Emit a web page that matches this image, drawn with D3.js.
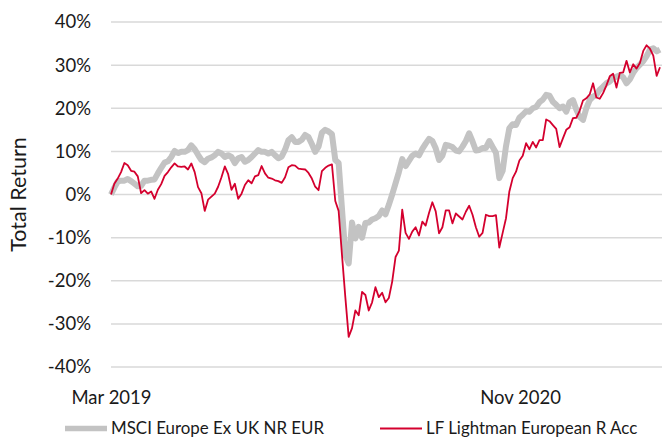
<!DOCTYPE html>
<html lang="en">
<head>
  <meta charset="UTF-8">
  <title>Total Return</title>
  <script src="https://d3js.org/d3.v7.min.js"></script>
  <style>
    body {
      margin: 0;
      background: #ffffff;
      overflow: hidden;
    }
    svg {
      display: block;
      font-family: Lato, 'Open Sans', sans-serif;
    }
    .grid line {
      stroke: #d9d9d9;
      stroke-width: 1.5px;
    }
    text {
      fill: #1a1a1a;
    }
  </style>
</head>
<body>
  <svg width="662" height="438"></svg>
  <script>
    // dates every 5 days from the start of March 2019
    const startDate = new Date(2019, 2, 1);
    const stepDays = 5;

    const seriesNames = ['MSCI Europe Ex UK NR EUR', 'LF Lightman European R Acc'];

    // MSCI Europe Ex UK NR EUR, total return in %
    const msci = [
      0, 1.6, 3.0, 3.2, 3.2, 3.6, 3.1, 2.5, 1.9, 2.0,
      3.2, 3.2, 3.4, 3.5, 4.9, 6.2, 7.4, 7.7, 8.7, 10.1,
      9.6, 9.9, 9.9, 10.3, 11.4, 10.5, 9.2, 8.0, 7.5, 8.3,
      8.6, 9.1, 9.9, 9.5, 8.7, 9.1, 8.7, 7.3, 8.4, 8.7,
      7.6, 8.0, 8.7, 9.5, 10.3, 9.9, 9.9, 9.5, 9.9, 9.1,
      8.4, 8.8, 10.4, 12.6, 13.3, 12.2, 12.2, 12.7, 13.8, 13.3,
      11.7, 9.9, 11.1, 14.3, 15.0, 14.6, 14.0, 8.0, 7.3, -3.3,
      -14.0, -16.0, -6.5, -10.2, -7.5, -10.0, -6.6, -6.5, -5.8, -5.5,
      -5.0, -3.7, -4.6, -2.4, 0, 2.6, 5.2, 8.2, 6.6, 7.8,
      9.0, 9.5, 9.1, 10.6, 11.8, 12.9, 12.4, 10.7, 8.0, 9.0,
      11.5, 11.3, 11.0, 10.2, 10.0, 11.1, 12.4, 14.2, 12.3, 10.2,
      10.3, 10.8, 10.8, 12.4, 11.0, 9.7, 3.8, 5.5, 11.2, 15.4,
      16.3, 16.1, 17.8, 18.5, 19.3, 19.2, 20.0, 20.3, 21.4, 22.0,
      23.1, 22.9, 21.5, 20.8, 20.0, 20.4, 19.2, 21.4, 21.9, 19.7,
      18.0, 17.3, 20.0, 21.9, 22.7, 23.1, 24.3, 25.0, 25.8, 26.2,
      27.0, 27.3, 27.7, 27.2, 25.8, 26.7, 28.2, 29.3, 30.1, 30.9,
      32.1, 33.6, 33.9, 33.2, 33.6
    ];

    // LF Lightman European R Acc, total return in %
    const lightman = [
      0, 2.5, 3.7, 5.2, 7.3, 6.8, 5.5, 5.3, 4.2, 0.3,
      1.0, 0.2, 0.7, -1.0, 1.1, 2.4, 4.3, 5.2, 6.3, 7.2,
      6.5, 6.4, 6.5, 5.8, 7.2, 5.2, 1.7, 0.3, -3.8, -1.2,
      -0.5, 0.2, 1.8, 4.0, 6.5, 4.7, 1.1, 2.5, -1.0, 0.2,
      2.2, 3.3, 2.6, 4.2, 4.5, 6.6, 4.9, 3.9, 3.7, 3.3,
      3.1, 2.7, 4.0, 6.3, 6.8, 6.7, 6.0, 5.9, 5.8, 5.0,
      3.7, 1.8, 1.0, 5.4, 6.2, 6.7, 7.0, -1.5, -3.8, -14.0,
      -23.8, -33.0, -31.0, -26.9, -28.0, -22.6, -23.3, -26.9, -25.0, -21.5,
      -23.8, -22.8, -25.0, -24.0, -20.2, -14.5, -13.0, -3.5, -8.9, -10.3,
      -8.6, -7.6, -9.5, -6.3, -7.2, -4.3, -1.8, -3.9, -9.0, -7.6,
      -3.7, -3.7, -6.7, -4.4, -5.1, -5.8, -4.0, -2.6, -4.7, -7.6,
      -9.8, -8.9, -4.7, -5.0, -5.0, -4.8, -12.3, -8.9, -5.5, 0.7,
      3.8, 5.3, 7.9, 9.0, 11.9, 10.5, 12.2, 10.9, 12.6, 12.6,
      17.4, 17.0, 16.1, 15.2, 11.0, 13.0, 15.0, 15.6, 17.7, 17.8,
      19.4, 21.8, 22.3, 23.2, 25.8, 22.5, 22.2, 23.5, 25.3, 27.4,
      28.0, 24.8, 28.2, 28.3, 31.0, 28.3, 30.2, 29.2, 30.5, 33.3,
      34.6, 33.8, 32.2, 27.5, 29.5
    ];

    const yTicks = [-40, -30, -20, -10, 0, 10, 20, 30, 40];
    const xTickDates = [new Date(2019, 2, 1), new Date(2020, 10, 1)];
    const xTickLabels = ['Mar 2019', 'Nov 2020'];

    const dates = msci.map((d, i) => d3.timeDay.offset(startDate, i * stepDays));

    const svg = d3.select('svg');
    const margin = { top: 22, right: 0, bottom: 71, left: 111 };
    const width = 662 - margin.left - margin.right;
    const height = 438 - margin.top - margin.bottom;

    const x = d3.scaleTime()
      .domain([startDate, new Date(2021, 5, 1)])
      .range([margin.left, margin.left + width]);

    const y = d3.scaleLinear()
      .domain([-40, 40])
      .range([margin.top + height, margin.top]);

    // gridlines
    svg.append('g')
      .attr('class', 'grid')
      .selectAll('line')
      .data(yTicks)
      .enter().append('line')
      .attr('x1', margin.left)
      .attr('x2', margin.left + width)
      .attr('y1', d => y(d))
      .attr('y2', d => y(d));

    // y axis labels
    const yAxis = d3.axisLeft(y)
      .tickValues(yTicks)
      .tickSize(0)
      .tickPadding(20)
      .tickFormat(d => d + '%');

    svg.append('g')
      .attr('transform', `translate(${margin.left},0)`)
      .call(yAxis)
      .call(g => g.select('.domain').remove())
      .selectAll('text')
      .attr('font-size', 18.5)
      .attr('font-family', 'Lato, sans-serif')
      .attr('fill', '#1a1a1a');

    // x axis labels
    const xAxis = d3.axisBottom(x)
      .tickValues(xTickDates)
      .tickSize(0)
      .tickPadding(24)
      .tickFormat((d, i) => xTickLabels[i]);

    svg.append('g')
      .attr('transform', `translate(0,${margin.top + height})`)
      .call(xAxis)
      .call(g => g.select('.domain').remove())
      .selectAll('text')
      .attr('font-size', 18.5)
      .attr('font-family', 'Lato, sans-serif')
      .attr('fill', '#1a1a1a');

    // axis title
    svg.append('text')
      .attr('transform', `translate(26,${margin.top + height / 2}) rotate(-90)`)
      .attr('text-anchor', 'middle')
      .attr('font-size', 21.5)
      .text('Total Return');

    const line = d3.line()
      .x((d, i) => x(dates[i]))
      .y(d => y(d));

    svg.append('path')
      .datum(msci)
      .attr('fill', 'none')
      .attr('stroke', '#c3c3c3')
      .attr('stroke-width', 6)
      .attr('stroke-linejoin', 'round')
      .attr('d', line);

    svg.append('path')
      .datum(lightman)
      .attr('fill', 'none')
      .attr('stroke', '#d4002e')
      .attr('stroke-width', 1.8)
      .attr('stroke-linejoin', 'round')
      .attr('d', line);

    // legend
    const legend = [
      { name: seriesNames[0], color: '#c3c3c3', width: 5.5, x: 65 },
      { name: seriesNames[1], color: '#d4002e', width: 2, x: 380 }
    ];

    const lg = svg.append('g')
      .selectAll('g')
      .data(legend)
      .enter().append('g')
      .attr('transform', d => `translate(${d.x},428.5)`);

    lg.append('line')
      .attr('x1', 0)
      .attr('x2', 42)
      .attr('stroke', d => d.color)
      .attr('stroke-width', d => d.width);

    lg.append('text')
      .attr('x', 46)
      .attr('dy', '0.35em')
      .attr('font-size', 16.9)
      .text(d => d.name);
  </script>
</body>
</html>
